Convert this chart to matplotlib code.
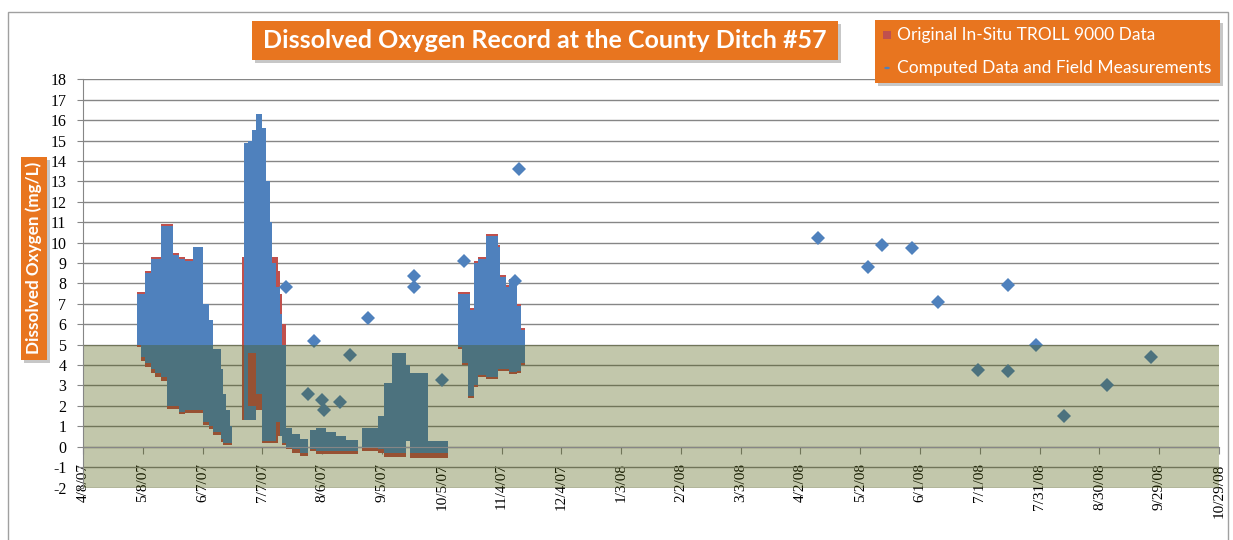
import matplotlib
matplotlib.use('Agg')
import matplotlib.pyplot as plt
import matplotlib.dates as mdates
from matplotlib.patches import Rectangle
import pandas as pd

W, H = 1233, 540

# dense logger record read off as blocks: (start, end, low, high) in mg/L
# computed / corrected series (blue)
blue_may_jun = [
    ('2007-05-05', '2007-05-07', 5.0, 7.5), ('2007-05-07', '2007-05-09', 4.4, 7.5),
    ('2007-05-09', '2007-05-12', 4.1, 8.5), ('2007-05-12', '2007-05-14', 3.8, 9.2),
    ('2007-05-14', '2007-05-17', 3.6, 9.2), ('2007-05-17', '2007-05-20', 3.4, 10.8),
    ('2007-05-20', '2007-05-23', 2.0, 10.8), ('2007-05-23', '2007-05-26', 2.0, 9.4),
    ('2007-05-26', '2007-05-29', 1.7, 9.2), ('2007-05-29', '2007-06-02', 1.8, 9.1),
    ('2007-06-02', '2007-06-07', 1.8, 9.8), ('2007-06-07', '2007-06-10', 1.2, 7.0),
    ('2007-06-10', '2007-06-12', 1.0, 6.2), ('2007-06-12', '2007-06-16', 0.7, 4.8),
    ('2007-06-16', '2007-06-17', 0.4, 3.8), ('2007-06-17', '2007-06-19', 0.2, 2.6),
    ('2007-06-19', '2007-06-21', 0.2, 1.8), ('2007-06-21', '2007-06-22', 0.2, 1.0),
]
blue_jul_aug = [
    ('2007-06-28', '2007-06-30', 1.3, 14.9), ('2007-06-30', '2007-07-02', 4.6, 15.0),
    ('2007-07-02', '2007-07-04', 4.6, 15.5), ('2007-06-30', '2007-07-04', 1.3, 2.0),
    ('2007-07-04', '2007-07-07', 2.6, 16.3), ('2007-07-07', '2007-07-09', 0.3, 15.6),
    ('2007-07-09', '2007-07-11', 0.3, 13.0), ('2007-07-11', '2007-07-12', 0.3, 11.0),
    ('2007-07-12', '2007-07-14', 0.3, 9.0), ('2007-07-14', '2007-07-16', 1.2, 7.8),
    ('2007-07-16', '2007-07-17', 0.5, 6.5), ('2007-07-17', '2007-07-19', 0.2, 5.0),
    ('2007-07-19', '2007-07-22', 0.0, 0.9), ('2007-07-22', '2007-07-26', -0.1, 0.6),
    ('2007-07-26', '2007-07-30', -0.3, 0.4),
    ('2007-07-31', '2007-08-03', -0.1, 0.8), ('2007-08-03', '2007-08-08', -0.2, 0.9),
    ('2007-08-08', '2007-08-13', -0.2, 0.7), ('2007-08-13', '2007-08-18', -0.2, 0.5),
    ('2007-08-18', '2007-08-24', -0.2, 0.35),
]
blue_sep_nov = [
    ('2007-08-26', '2007-09-03', -0.05, 0.9), ('2007-09-03', '2007-09-06', -0.1, 1.5),
    ('2007-09-06', '2007-09-10', -0.3, 3.1), ('2007-09-10', '2007-09-17', -0.3, 4.6),
    ('2007-09-17', '2007-09-19', 0.3, 4.0), ('2007-09-19', '2007-09-28', -0.3, 3.6),
    ('2007-09-28', '2007-10-08', -0.3, 0.3),
    ('2007-10-13', '2007-10-15', 4.9, 7.5), ('2007-10-15', '2007-10-18', 4.1, 7.5),
    ('2007-10-18', '2007-10-19', 2.5, 7.5), ('2007-10-19', '2007-10-21', 2.5, 6.7),
    ('2007-10-21', '2007-10-23', 3.0, 9.0), ('2007-10-23', '2007-10-27', 3.5, 9.2),
    ('2007-10-27', '2007-11-02', 3.4, 10.3), ('2007-11-02', '2007-11-03', 3.8, 9.8),
    ('2007-11-03', '2007-11-06', 3.8, 8.3), ('2007-11-06', '2007-11-08', 3.8, 7.8),
    ('2007-11-08', '2007-11-12', 3.65, 8.1), ('2007-11-12', '2007-11-14', 3.7, 6.9),
    ('2007-11-14', '2007-11-16', 4.1, 5.7),
]

# original in-situ TROLL 9000 series (red)
red_may_jun = [
    ('2007-05-05', '2007-05-07', 4.9, 7.6), ('2007-05-07', '2007-05-09', 4.2, 7.6),
    ('2007-05-09', '2007-05-12', 3.9, 8.6), ('2007-05-12', '2007-05-14', 3.6, 9.3),
    ('2007-05-14', '2007-05-17', 3.4, 9.3), ('2007-05-17', '2007-05-20', 3.2, 10.9),
    ('2007-05-20', '2007-05-23', 1.85, 10.9), ('2007-05-23', '2007-05-26', 1.85, 9.5),
    ('2007-05-26', '2007-05-29', 1.6, 9.3), ('2007-05-29', '2007-06-02', 1.65, 9.2),
    ('2007-06-02', '2007-06-07', 1.65, 9.8), ('2007-06-07', '2007-06-10', 1.05, 7.0),
    ('2007-06-10', '2007-06-12', 0.85, 6.2), ('2007-06-12', '2007-06-16', 0.55, 4.8),
    ('2007-06-16', '2007-06-17', 0.25, 3.8), ('2007-06-17', '2007-06-19', 0.1, 2.6),
    ('2007-06-19', '2007-06-21', 0.1, 1.8), ('2007-06-21', '2007-06-22', 0.1, 1.0),
]
red_jul_aug = [
    ('2007-06-27', '2007-06-30', 1.3, 9.3), ('2007-06-30', '2007-07-07', 1.8, 9.3),
    ('2007-07-07', '2007-07-15', 0.2, 9.3), ('2007-07-15', '2007-07-16', 0.5, 8.6),
    ('2007-07-16', '2007-07-17', 0.5, 7.5), ('2007-07-17', '2007-07-19', 0.1, 6.0),
    ('2007-07-19', '2007-07-22', -0.1, 0.9), ('2007-07-22', '2007-07-26', -0.3, 0.6),
    ('2007-07-26', '2007-07-30', -0.45, 0.4),
    ('2007-07-31', '2007-08-03', -0.2, 0.8), ('2007-08-03', '2007-08-08', -0.35, 0.9),
    ('2007-08-08', '2007-08-13', -0.35, 0.7), ('2007-08-13', '2007-08-18', -0.35, 0.5),
    ('2007-08-18', '2007-08-24', -0.35, 0.35),
]
red_sep_nov = [
    ('2007-08-26', '2007-09-03', -0.2, 0.9), ('2007-09-03', '2007-09-06', -0.3, 1.5),
    ('2007-09-06', '2007-09-10', -0.5, 3.1), ('2007-09-10', '2007-09-17', -0.5, 4.6),
    ('2007-09-17', '2007-09-19', 0.3, 4.0), ('2007-09-19', '2007-09-28', -0.55, 3.6),
    ('2007-09-28', '2007-10-08', -0.55, 0.3),
    ('2007-10-13', '2007-10-15', 4.8, 7.6), ('2007-10-15', '2007-10-18', 4.0, 7.6),
    ('2007-10-18', '2007-10-19', 2.4, 7.6), ('2007-10-19', '2007-10-21', 2.4, 6.8),
    ('2007-10-21', '2007-10-23', 2.9, 9.1), ('2007-10-23', '2007-10-27', 3.4, 9.3),
    ('2007-10-27', '2007-11-02', 3.3, 10.4), ('2007-11-02', '2007-11-03', 3.7, 9.9),
    ('2007-11-03', '2007-11-06', 3.7, 8.4), ('2007-11-06', '2007-11-08', 3.7, 7.9),
    ('2007-11-08', '2007-11-12', 3.55, 8.2), ('2007-11-12', '2007-11-14', 3.6, 7.0),
    ('2007-11-14', '2007-11-16', 4.0, 5.8),
]

# single field measurements (blue diamonds)
point_dates = ['2007-07-19', '2007-07-30', '2007-08-02', '2007-08-06', '2007-08-07',
               '2007-08-15', '2007-08-20', '2007-08-29', '2007-09-21', '2007-09-21',
               '2007-10-05', '2007-10-16', '2007-11-11', '2007-11-13', '2008-04-11',
               '2008-05-06', '2008-05-13', '2008-05-28', '2008-06-10', '2008-06-30',
               '2008-07-15', '2008-07-15', '2008-07-29', '2008-08-12', '2008-09-03',
               '2008-09-25']
point_values = [7.8, 2.6, 5.2, 2.3, 1.8, 2.2, 4.5, 6.3, 8.35, 7.8, 3.25, 9.1, 8.1, 13.6,
                10.2, 8.8, 9.9, 9.75, 7.1, 3.75, 7.9, 3.7, 5.0, 1.5, 3.0, 4.4]

xtick_labels = ['4/8/07', '5/8/07', '6/7/07', '7/7/07', '8/6/07', '9/5/07', '10/5/07',
                '11/4/07', '12/4/07', '1/3/08', '2/2/08', '3/3/08', '4/2/08', '5/2/08',
                '6/1/08', '7/1/08', '7/31/08', '8/30/08', '9/29/08', '10/29/08']
yticks = list(range(-2, 19))

BLUE = '#4F81BD'
RED = '#C0504D'
ORANGE = '#E8751F'
GRID = '#868686'


def draw_blocks(ax, blocks, color, z):
    s = mdates.date2num(pd.to_datetime([b[0] for b in blocks]))
    e = mdates.date2num(pd.to_datetime([b[1] for b in blocks]))
    lo = [b[2] for b in blocks]
    hi = [b[3] for b in blocks]
    ax.bar(s, [h - l for h, l in zip(hi, lo)], width=e - s, bottom=lo, align='edge',
           color=color, linewidth=0, zorder=z)


fig = plt.figure(figsize=(W / 100, H / 100), dpi=100)
ax = fig.add_axes([83 / W, 1 - 487.5 / H, (1219 - 83) / W, (487.5 - 79.3) / H])

for blk in (red_may_jun, red_jul_aug, red_sep_nov):
    draw_blocks(ax, blk, RED, 2)
for blk in (blue_may_jun, blue_jul_aug, blue_sep_nov):
    draw_blocks(ax, blk, BLUE, 2.1)
ax.plot(pd.to_datetime(point_dates), point_values, 'D', color=BLUE, ms=7, mew=0, zorder=2.2)

# hypoxia band below 5 mg/L, laid over the data
ax.axhspan(-2, 5, color=(0.275, 0.333, 0.0), alpha=0.33, lw=0, zorder=2.3)

# x axis crosses at 0 (set before ticks, it resets them)
for s in ('top', 'right'):
    ax.spines[s].set_visible(False)
ax.spines['left'].set_color(GRID)
ax.spines['bottom'].set_color(GRID)
ax.spines['bottom'].set_position(('data', 0))

xt = pd.to_datetime(xtick_labels, format='%m/%d/%y')
ax.set_xlim(xt[0], xt[-1])
ax.set_ylim(-2, 18)
ax.set_xticks(xt)
ax.set_xticklabels(xtick_labels, rotation=90, va='top', ha='center',
                   family='Liberation Serif', fontsize=11)
ax.set_yticks(yticks)
ax.set_yticklabels([str(v) for v in yticks], family='Liberation Serif', fontsize=11.5)

ax.set_axisbelow(True)
ax.yaxis.grid(True, color=GRID, lw=1)
ax.xaxis.grid(False)
ax.tick_params(axis='y', length=4, color=GRID, pad=8)
ax.tick_params(axis='x', length=5, color=GRID, pad=7)

# chart frame
fig.add_artist(Rectangle((8 / W, -0.01), 1220 / W, 1.01 - 12 / H, transform=fig.transFigure,
                         fill=False, edgecolor='#a0a0a0', lw=1))


def box(x0, y0, x1, y1):
    fig.add_artist(Rectangle(((x0 + 3) / W, 1 - (y1 + 3) / H), (x1 - x0) / W, (y1 - y0) / H,
                             transform=fig.transFigure, facecolor='#909090', alpha=0.5,
                             lw=0))
    fig.add_artist(Rectangle((x0 / W, 1 - y1 / H), (x1 - x0) / W, (y1 - y0) / H,
                             transform=fig.transFigure, facecolor=ORANGE, lw=0))


font = ['Lato', 'DejaVu Sans']
box(252, 21, 838, 60)
fig.text(545 / W, 1 - 40.5 / H, 'Dissolved Oxygen Record at the County Ditch #57',
         ha='center', va='center', color='white', fontsize=18, fontweight='bold',
         family=font)

box(875, 20, 1220, 83)
fig.add_artist(Rectangle((883 / W, 1 - 39 / H), 8 / W, 8 / H, transform=fig.transFigure,
                         facecolor=RED, lw=0))
fig.text(897 / W, 1 - 35 / H, 'Original In-Situ TROLL 9000 Data', ha='left', va='center',
         color='white', fontsize=12.5, family=font)
fig.add_artist(plt.Circle((887 / W, 1 - 68 / H), 2.8 / W, transform=fig.transFigure,
                          facecolor=BLUE, lw=0))
fig.text(897 / W, 1 - 68 / H, 'Computed Data and Field Measurements', ha='left',
         va='center', color='white', fontsize=12.5, family=font)

box(21, 157, 47, 360)
fig.text(34 / W, 1 - 258 / H, 'Dissolved Oxygen (mg/L)', rotation=90, ha='center',
         va='center', color='white', fontsize=12.3, fontweight='bold', family=font)

fig.savefig('out.png', dpi=100)
